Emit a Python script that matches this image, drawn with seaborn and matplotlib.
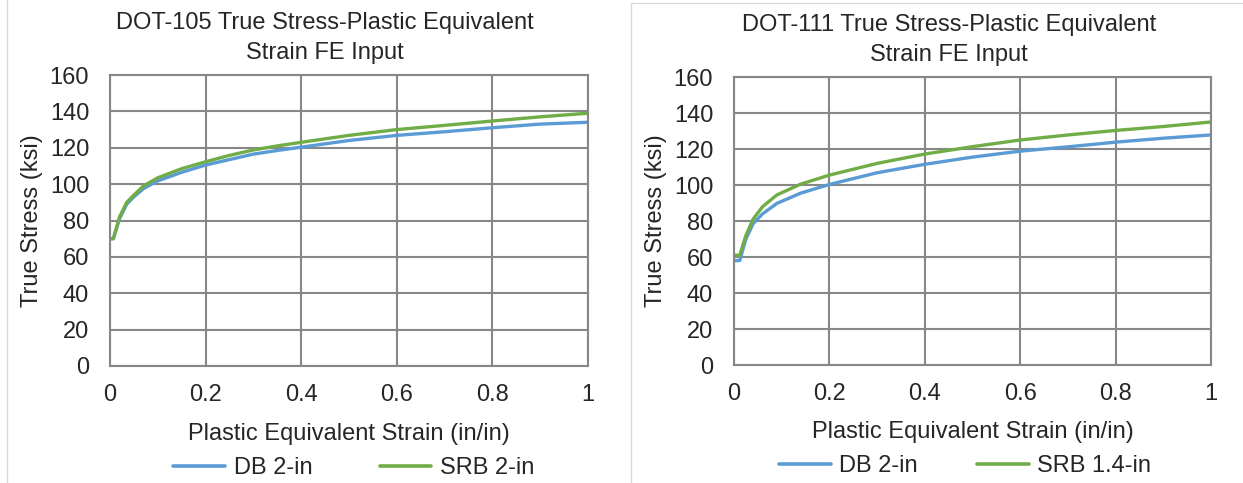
import numpy as np
import pandas as pd
import matplotlib
matplotlib.use("Agg")
import matplotlib.pyplot as plt
import seaborn as sns
from matplotlib.patches import Rectangle
from matplotlib.lines import Line2D

# ---------------- data ----------------
strain_105 = [0, 0.007, 0.02, 0.035, 0.05, 0.07, 0.1, 0.15, 0.2, 0.25, 0.3, 0.35,
              0.4, 0.5, 0.6, 0.7, 0.8, 0.9, 1.0]
db_105 = [70, 70, 81, 89, 93, 97.5, 101.8, 106.5, 110.5, 113.5, 116.5, 118.5,
          120.3, 124, 126.8, 128.8, 131, 133, 134]
srb_105 = [70, 70, 82, 90, 94, 99, 103.5, 108.5, 112.3, 115.8, 118.8, 121,
           123, 126.8, 130, 132.3, 134.7, 137, 139]

strain_111 = [0, 0.012, 0.025, 0.04, 0.06, 0.09, 0.14, 0.2, 0.3, 0.4, 0.5,
              0.6, 0.7, 0.8, 0.9, 1.0]
db_111 = [58, 58, 70, 78.5, 84, 89.8, 95.5, 100.3, 106.8, 111.5, 115.5,
          118.8, 121.2, 123.8, 126, 127.8]
srb_111 = [61, 61, 72, 81, 88, 94.5, 100.5, 105.5, 112, 117.2, 121.3,
           125, 127.8, 130.3, 132.5, 135]

titles = ["DOT-105 True Stress-Plastic Equivalent\nStrain FE Input",
          "DOT-111 True Stress-Plastic Equivalent\nStrain FE Input"]
series_105 = ["DB 2-in", "SRB 2-in"]
series_111 = ["DB 2-in", "SRB 1.4-in"]
x_ticks = [0, 0.2, 0.4, 0.6, 0.8, 1]
x_ticklabels = ["0", "0.2", "0.4", "0.6", "0.8", "1"]
y_ticks = [0, 20, 40, 60, 80, 100, 120, 140, 160]
xlabel = "Plastic Equivalent Strain (in/in)"
ylabel = "True Stress (ksi)"

# ---------------- style ----------------
sns.set_theme(style="white")
plt.rcParams["font.family"] = ["Liberation Sans", "DejaVu Sans"]
TEXT = "#262626"
GRID = "#878787"
BLUE = "#5B9BD5"
GREEN = "#70AD47"
FS = 17

fig = plt.figure(figsize=(12.43, 4.83), dpi=100)
W, H = 1243, 483

# panel borders
fig.add_artist(Line2D([7 / W, 7 / W], [0, 1], color="#d9d9d9", lw=1, transform=fig.transFigure))
fig.add_artist(Rectangle((631 / W, -0.01), 1, 1 - 3 / H + 0.01, fill=False,
                         edgecolor="#d9d9d9", lw=1, transform=fig.transFigure))


def make_panel(rect, strain, db, srb, names, title, leg_x, colsp):
    ax = fig.add_axes(rect)
    df = pd.DataFrame({
        "strain": strain + strain,
        "stress": db + srb,
        "series": [names[0]] * len(strain) + [names[1]] * len(strain),
    })
    sns.lineplot(data=df, x="strain", y="stress", hue="series",
                 palette=[BLUE, GREEN], linewidth=2.4, ax=ax, legend=False,
                 sort=False)
    ax.set_xlim(0, 1)
    ax.set_ylim(0, 160)
    ax.set_xticks(x_ticks)
    ax.set_xticklabels(x_ticklabels)
    ax.set_yticks(y_ticks)
    ax.grid(True, color=GRID, lw=1.5)
    ax.set_axisbelow(True)
    for s in ax.spines.values():
        s.set_color(GRID)
        s.set_linewidth(1.5)
    ax.tick_params(axis="both", length=0, labelsize=FS, colors=TEXT)
    ax.tick_params(axis="x", pad=13)
    ax.tick_params(axis="y", pad=15)
    ax.set_xlabel(xlabel, fontsize=FS, color=TEXT)
    ax.set_ylabel(ylabel, fontsize=FS, color=TEXT)
    ax.xaxis.set_label_coords(0.5, -0.195)
    ax.yaxis.set_label_coords(-0.14, 0.5)
    ax.text(0.45, 1.0 + 11 / 291, title, transform=ax.transAxes, ha="center",
            va="bottom", fontsize=FS, color=TEXT, linespacing=1.45,
            multialignment="center")
    handles = [Line2D([], [], color=BLUE, lw=2.6), Line2D([], [], color=GREEN, lw=2.6)]
    ax.legend(handles, names, loc="center", bbox_to_anchor=(leg_x, -0.35),
              ncol=2, frameon=False, fontsize=FS, handlelength=2.2,
              handletextpad=0.35, columnspacing=colsp, labelcolor=TEXT)
    return ax


make_panel([110 / W, 1 - 366 / H, 478 / W, 291 / H], strain_105, db_105, srb_105,
           series_105, titles[0], 0.51, 2.85)
make_panel([734 / W, 1 - 365 / H, 477 / W, 288 / H], strain_111, db_111, srb_111,
           series_111, titles[1], 0.484, 2.5)

fig.savefig("out.png", dpi=100, facecolor="white")
